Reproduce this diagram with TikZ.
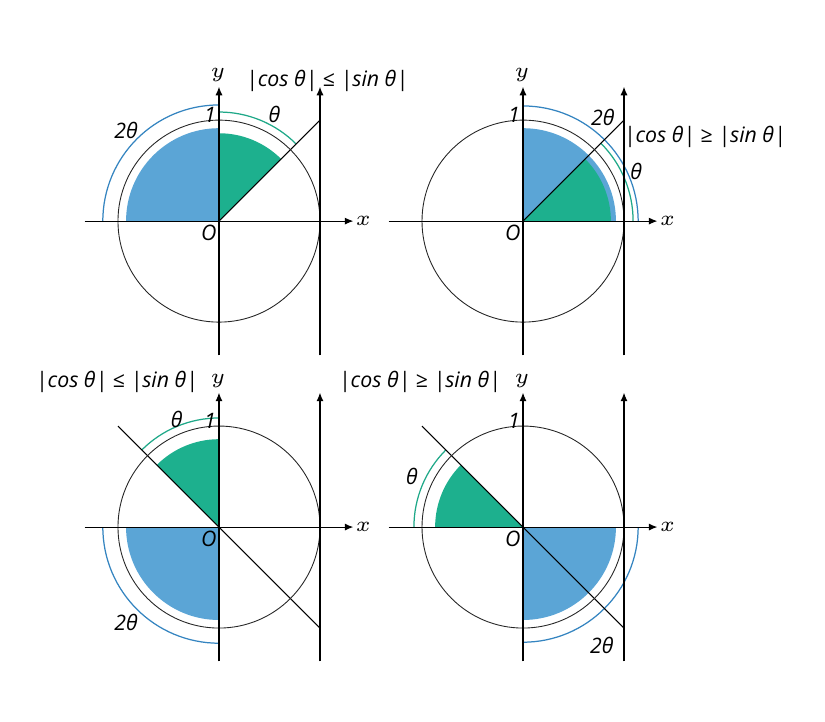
\documentclass[tikz,border=0pt]{standalone}
\usepackage{fontspec}
\setmainfont{Open Sans}
\usetikzlibrary{arrows.meta}

\definecolor{fillblue}{RGB}{91,165,214}
\definecolor{fillgreen}{RGB}{29,176,142}
\definecolor{arcblue}{RGB}{52,132,192}
\definecolor{arcgreen}{RGB}{30,168,136}

\begin{document}
\begin{tikzpicture}[
        lbl/.style={font=\fontsize{6}{7.2}\selectfont\itshape, inner sep=0pt},
        mlbl/.style={font=\fontsize{6.3}{7.5}\selectfont, inner sep=0pt},
        axis/.style={line width=0.3pt, -{Latex[length=2.4pt,width=2pt]}},
        thinline/.style={line width=0.3pt},
        circ/.style={draw=black!85, line width=0.25pt},
        arcb/.style={draw=arcblue, line width=0.35pt},
        arcg/.style={draw=arcgreen, line width=0.35pt}
    ]
    \useasboundingbox (0,0) rectangle (8.168,7.139);

    % top left: |cos| <= |sin|, theta in first quadrant
    \begin{scope}[shift={(2.168,4.950)}]
        \fill[fillblue] (0,0) -- (90:0.92) arc[start angle=90, end angle=180, radius=0.92] -- cycle;
        \fill[fillgreen] (0,0) -- (45:0.87) arc[start angle=45, end angle=90, radius=0.87] -- cycle;
        \draw[arcg] (45:1.08) arc[start angle=45, end angle=90, radius=1.08];
        \draw[arcb] (90:1.15) arc[start angle=90, end angle=180, radius=1.15];
        \draw[thinline] (0,0) -- (1,1);
        \node[lbl] (th1) at (0.55,1.06) {θ};
        \node[lbl] (tt1) at (-0.92,0.90) {2θ};
        \node[lbl] (cap1) at (1.07,1.39) {|cos θ| \textup{≤} |sin θ|};
    \end{scope}

    % top right: |cos| >= |sin|, theta in first quadrant
    \begin{scope}[shift={(5.178,4.950)}]
        \fill[fillblue] (0,0) -- (0:0.92) arc[start angle=0, end angle=90, radius=0.92] -- cycle;
        \fill[fillgreen] (0,0) -- (0:0.87) arc[start angle=0, end angle=45, radius=0.87] -- cycle;
        \draw[arcg] (0:1.09) arc[start angle=0, end angle=45, radius=1.09];
        \draw[arcb] (0:1.14) arc[start angle=0, end angle=90, radius=1.14];
        \draw[thinline] (0,0) -- (1,1);
        \node[lbl] (th2) at (1.12,0.49) {θ};
        \node[lbl] (tt2) at (0.79,1.03) {2θ};
        \node[lbl] (cap2) at (1.80,0.83) {|cos θ| \textup{≥} |sin θ|};
    \end{scope}

    % bottom left: |cos| <= |sin|, theta in second quadrant
    \begin{scope}[shift={(2.168,1.921)}]
        \fill[fillblue] (0,0) -- (180:0.92) arc[start angle=180, end angle=270, radius=0.92] -- cycle;
        \fill[fillgreen] (0,0) -- (90:0.87) arc[start angle=90, end angle=135, radius=0.87] -- cycle;
        \draw[arcg] (90:1.08) arc[start angle=90, end angle=135, radius=1.08];
        \draw[arcb] (180:1.15) arc[start angle=180, end angle=270, radius=1.15];
        \draw[thinline] (-1,1) -- (1,-1);
        \node[lbl] (th3) at (-0.42,1.07) {θ};
        \node[lbl] (tt3) at (-0.92,-0.94) {2θ};
        \node[lbl] (cap3) at (-1.01,1.44) {|cos θ| \textup{≤} |sin θ|};
    \end{scope}

    % bottom right: |cos| >= |sin|, theta in second quadrant
    \begin{scope}[shift={(5.178,1.921)}]
        \fill[fillblue] (0,0) -- (270:0.92) arc[start angle=270, end angle=360, radius=0.92] -- cycle;
        \fill[fillgreen] (0,0) -- (135:0.87) arc[start angle=135, end angle=180, radius=0.87] -- cycle;
        \draw[arcg] (135:1.08) arc[start angle=135, end angle=180, radius=1.08];
        \draw[arcb] (270:1.14) arc[start angle=270, end angle=360, radius=1.14];
        \draw[thinline] (-1,1) -- (1,-1);
        \node[lbl] (th4) at (-1.10,0.50) {θ};
        \node[lbl] (tt4) at (0.78,-1.17) {2θ};
        \node[lbl] (cap4) at (-1.02,1.44) {|cos θ| \textup{≥} |sin θ|};
    \end{scope}

    % circle, axes and tangent line, the same in all four
    \foreach \px/\py/\i in {2.168/4.950/1, 5.178/4.950/2, 2.168/1.921/3, 5.178/1.921/4} {
        \begin{scope}[shift={(\px,\py)}]
            \draw[circ] (0,0) circle[radius=1];
            \draw[axis] (-1.33,0) -- (1.33,0);
            \draw[axis] (0,-1.33) -- (0,1.33);
            \draw[axis] (1,-1.33) -- (1,1.33);
            \node[mlbl] (x\i) at (1.43,0) {$x$};
            \node[mlbl] (y\i) at (-0.01,1.45) {$y$};
            \node[lbl] (one\i) at (-0.09,1.05) {1};
            \node[lbl] (o\i) at (-0.10,-0.12) {O};
        \end{scope}
    }
\end{tikzpicture}
\end{document}
